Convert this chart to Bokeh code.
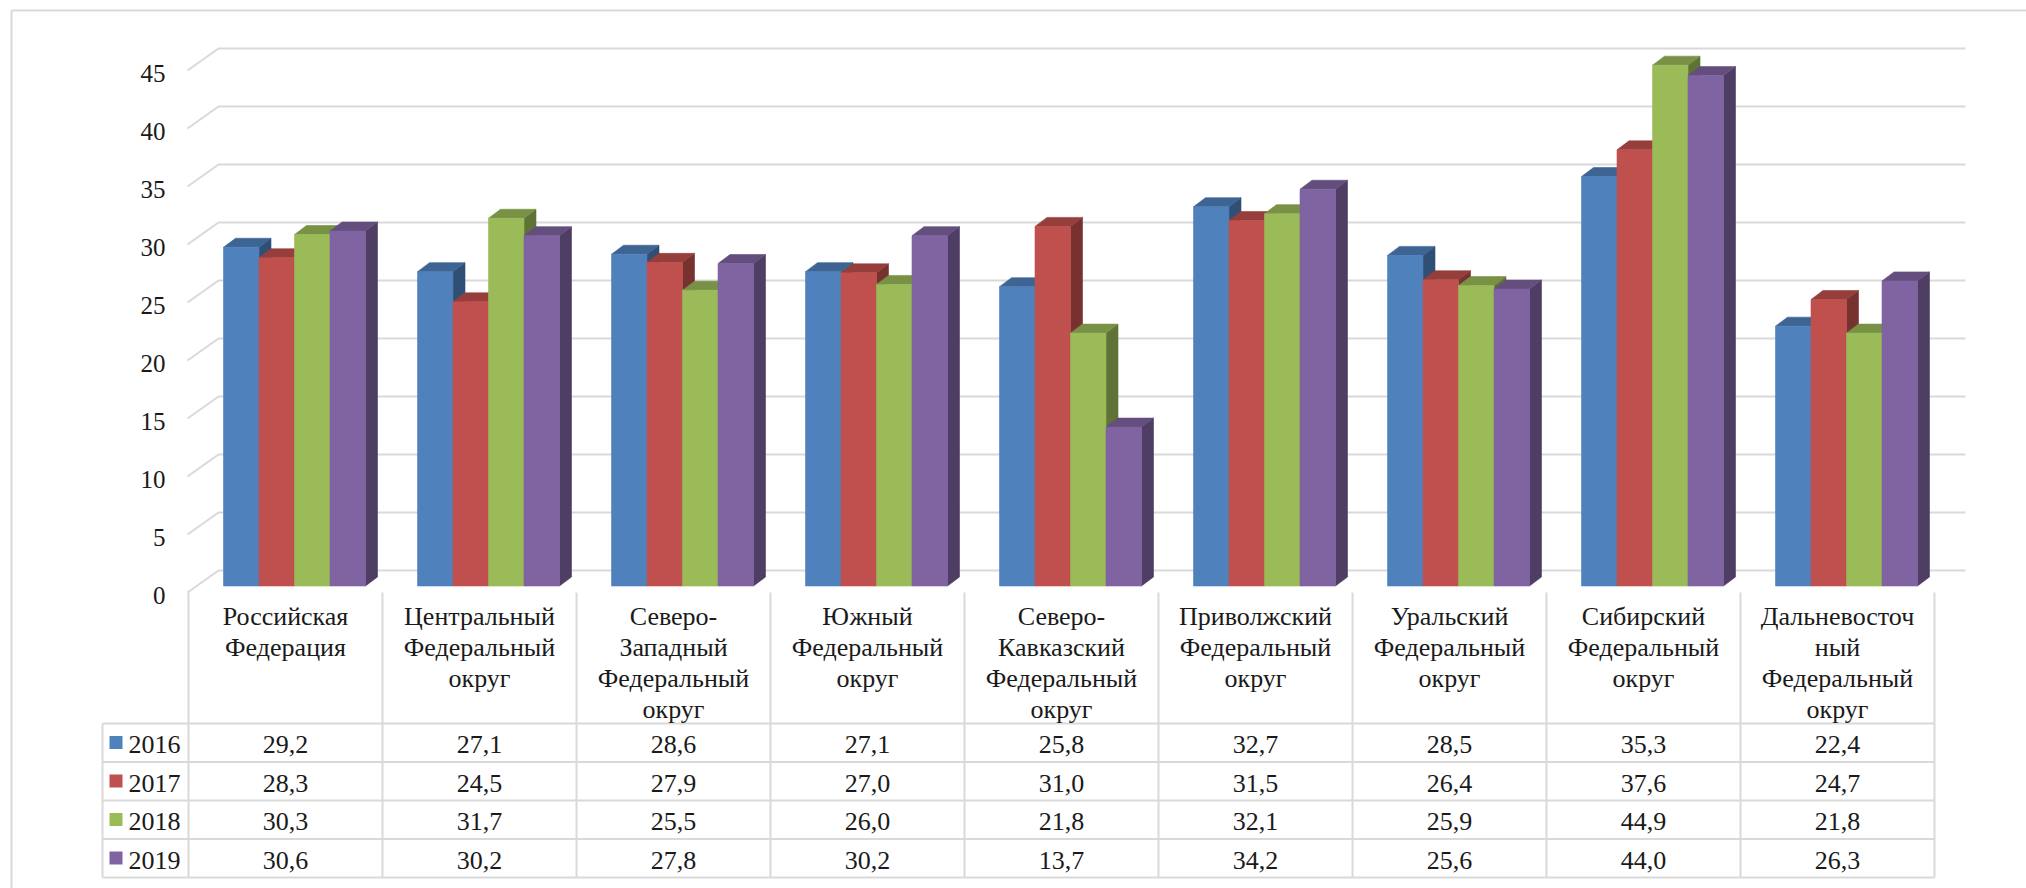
from bokeh.plotting import figure
from bokeh.models import Range1d, ColumnDataSource
from bokeh.core.properties import value
from bokeh.embed import file_html
from bokeh.resources import INLINE

# ---------------- data ----------------
categories = [
    "Российская\nФедерация",
    "Центральный\nФедеральный\nокруг",
    "Северо-\nЗападный\nФедеральный\nокруг",
    "Южный\nФедеральный\nокруг",
    "Северо-\nКавказский\nФедеральный\nокруг",
    "Приволжский\nФедеральный\nокруг",
    "Уральский\nФедеральный\nокруг",
    "Сибирский\nФедеральный\nокруг",
    "Дальневосточ\nный\nФедеральный\nокруг",
]
years = ["2016", "2017", "2018", "2019"]
v2016 = [29.2, 27.1, 28.6, 27.1, 25.8, 32.7, 28.5, 35.3, 22.4]
v2017 = [28.3, 24.5, 27.9, 27.0, 31.0, 31.5, 26.4, 37.6, 24.7]
v2018 = [30.3, 31.7, 25.5, 26.0, 21.8, 32.1, 25.9, 44.9, 21.8]
v2019 = [30.6, 30.2, 27.8, 30.2, 13.7, 34.2, 25.6, 44.0, 26.3]
y_ticks = [0, 5, 10, 15, 20, 25, 30, 35, 40, 45]

series = [v2016, v2017, v2018, v2019]
front_colors = ["#4F81BD", "#C0504D", "#9BBB59", "#8064A2"]


def shade(hex_color, k):
    h = hex_color.lstrip("#")
    r, g, b = (int(h[i:i + 2], 16) for i in (0, 2, 4))
    return "#%02x%02x%02x" % (int(r * k), int(g * k), int(b * k))


top_colors = [shade(c, 0.78) for c in front_colors]
side_colors = [shade(c, 0.62) for c in front_colors]

# ---------------- layout helpers (reference pixel -> data units) ----------------
PX_CAT = 194.0      # pixels per category column
X0_REF = 188.0      # left edge of first category column
PX_UNIT = 11.6      # pixels per value unit
Y0_REF = 585.5      # pixel row of value 0 at bar front
ORG = 0             # page offset of the canvas


def xr(px):
    return (px - X0_REF) / PX_CAT


def yr(py):
    return (Y0_REF - py) / PX_UNIT


def dx(px):
    return px / PX_CAT


def dy(px):
    return px / PX_UNIT


W, H = 2026, 888
p = figure(width=W, height=H, x_range=Range1d(xr(ORG), xr(ORG + W)),
           y_range=Range1d(yr(ORG + H), yr(ORG)),
           x_axis_type=None, y_axis_type=None, title=None,
           output_backend="svg", toolbar_location=None, min_border=0)
p.grid.visible = False
p.outline_line_color = None
p.background_fill_color = "white"
p.border_fill_color = "white"

GRID = "#D9D9D9"
TEXT = "#1a1a1a"
FONT = value("Liberation Serif")


def mid(baseline_px, size):
    # vertical middle of the glyph box for a given baseline (pixels)
    return baseline_px - 0.34 * size


# outer chart border (top and left)
p.multi_line(xs=[[xr(11), xr(2040)], [xr(11), xr(11)]],
             ys=[[yr(10), yr(10)], [yr(10), yr(900)]],
             line_color=GRID, line_width=2)

# back wall gridlines with perspective diagonal at the left
front_off = dy(592 - Y0_REF)
back_off = dy(Y0_REF - 570)
gx, gy = [], []
for t in y_ticks:
    gx.append([xr(187), xr(218), xr(1965)])
    gy.append([t - front_off, t + back_off, t + back_off])
p.multi_line(xs=gx, ys=gy, line_color=GRID, line_width=2)

# y tick labels on the front plane
p.text(x=[xr(165)] * len(y_ticks), y=[t - dy(mid(603, 25) - Y0_REF) for t in y_ticks],
       text=[str(t) for t in y_ticks], text_font=FONT, text_font_size="25px",
       text_color=TEXT, text_align="right", text_baseline="middle")

# ---------------- 3D bars ----------------
bw = dx(35.5)
ddx = dx(12)
ddy = dy(9)
start = dx(35)
pxs, pys, pcols = [], [], []
for i in range(len(categories)):
    for s, vals in enumerate(series):
        v = vals[i]
        x0 = i + start + s * bw
        x1 = x0 + bw
        pxs.append([x1, x1 + ddx, x1 + ddx, x1])          # side face
        pys.append([0, ddy, v + ddy, v])
        pcols.append(side_colors[s])
        pxs.append([x0, x1, x1 + ddx, x0 + ddx])          # top face
        pys.append([v, v, v + ddy, v + ddy])
        pcols.append(top_colors[s])
        pxs.append([x0, x1, x1, x0])                      # front face
        pys.append([0, 0, v, v])
        pcols.append(front_colors[s])
src = ColumnDataSource(dict(xs=pxs, ys=pys, c=pcols))
p.patches(xs="xs", ys="ys", fill_color="c", line_color="c", line_width=0.6, source=src)

# ---------------- data table ----------------
row_lines = [723, 761.5, 800, 838.5, 877]
tx, ty = [], []
for r in row_lines:
    tx.append([xr(102), xr(188 + PX_CAT * len(categories))])
    ty.append([yr(r), yr(r)])
tx.append([xr(102), xr(102)])
ty.append([yr(723), yr(877)])
for k in range(len(categories) + 1):
    tx.append([k, k])
    ty.append([yr(592), yr(877)])
p.multi_line(xs=tx, ys=ty, line_color=GRID, line_width=2)

FS = 26
# header (category names)
hx, hy, ht = [], [], []
for i, cat in enumerate(categories):
    for k, line in enumerate(cat.split("\n")):
        hx.append(i + 0.5)
        hy.append(yr(mid(625 + 31 * k, FS)))
        ht.append(line)
p.text(x=hx, y=hy, text=ht, text_font=FONT, text_font_size="%dpx" % FS,
       text_color=TEXT, text_align="center", text_baseline="middle")

# values
vx, vy, vt = [], [], []
for r, vals in enumerate(series):
    for i, v in enumerate(vals):
        vx.append(i + 0.5)
        vy.append(yr(mid(753 + 38.5 * r, FS)))
        vt.append(("%.1f" % v).replace(".", ","))
p.text(x=vx, y=vy, text=vt, text_font=FONT, text_font_size="%dpx" % FS,
       text_color=TEXT, text_align="center", text_baseline="middle")

# legend keys + year labels
p.scatter(x=[xr(115.5)] * len(years), y=[yr(742 + 38.5 * r) for r in range(len(years))],
          marker="square", size=13, fill_color=front_colors, line_color=None)
p.text(x=[xr(128)] * len(years), y=[yr(mid(753 + 38.5 * r, FS)) for r in range(len(years))],
       text=years, text_font=FONT, text_font_size="%dpx" % FS,
       text_color=TEXT, text_align="left", text_baseline="middle")

open("out.html", "w").write(file_html(p, INLINE))
